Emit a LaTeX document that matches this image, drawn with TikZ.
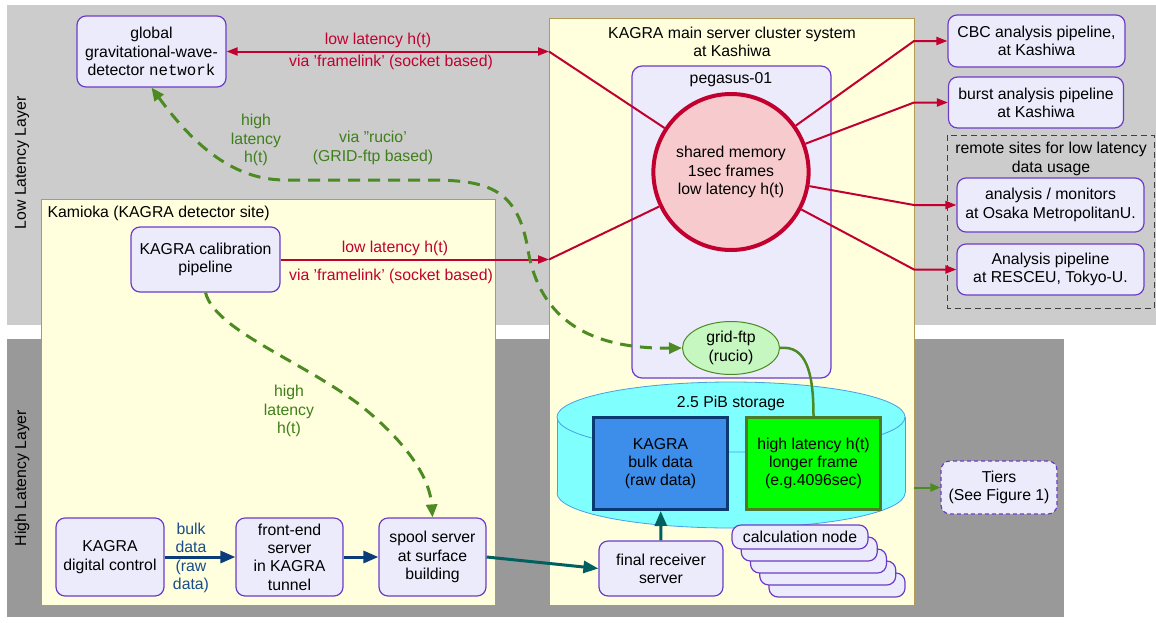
\documentclass[tikz,border=0pt]{standalone}
\usepackage{fontspec}
\setmainfont{Liberation Sans}
\setmonofont{Liberation Mono}
\usepackage{xcolor}
\usepackage{tikz}
\usetikzlibrary{arrows.meta,shapes.geometric,positioning}

\definecolor{lowgray}{HTML}{CCCCCC}
\definecolor{highgray}{HTML}{999999}
\definecolor{siteyel}{HTML}{FFFFDE}
\definecolor{sitebrd}{HTML}{B39B55}
\definecolor{boxfill}{HTML}{ECEBFC}
\definecolor{boxbrd}{HTML}{6C3CC9}
\definecolor{llred}{HTML}{C2002F}
\definecolor{hlgreen}{HTML}{4C8A22}
\definecolor{hltext}{HTML}{3F7F1A}
\definecolor{bulkblue}{HTML}{0B3C7A}
\definecolor{bulktext}{HTML}{1A4C8C}
\definecolor{tealc}{HTML}{00605F}
\definecolor{cyl}{HTML}{80FFFF}
\definecolor{cylbrd}{HTML}{4A9EE6}
\definecolor{rawblue}{HTML}{3C8EEA}
\definecolor{rawbrd}{HTML}{0B3A72}
\definecolor{hltfill}{HTML}{00FF00}
\definecolor{hltbrd}{HTML}{4C7A26}
\definecolor{shmfill}{HTML}{F7CBCD}
\definecolor{ftpfill}{HTML}{C6F7C0}

\begin{document}
\begin{tikzpicture}[x=1pt,y=-1pt,
  font=\fontsize{15.8}{18.3}\selectfont,
  box/.style={draw=boxbrd, fill=boxfill, line width=1.2pt, rounded corners=9pt,
    align=center, inner sep=0pt},
  site/.style={draw=sitebrd, fill=siteyel, line width=1pt},
  redline/.style={draw=llred, line width=2pt, -{Triangle[length=11pt,width=8pt]}},
  redplain/.style={draw=llred, line width=2pt},
  redlbl/.style={text=llred},
  hldash/.style={draw=hlgreen, line width=3pt, dash pattern=on 12pt off 8pt},
  hltip/.style={-{Triangle[length=13pt,width=11pt]}},
  hllbl/.style={text=hltext, align=center},
  bulkarrow/.style={draw=bulkblue, line width=3pt, -{Triangle[length=15pt,width=12pt]}},
  tealarrow/.style={draw=tealc, line width=3pt, -{Triangle[length=15pt,width=12pt]}}
]
  \useasboundingbox[fill=white] (0,0) rectangle (1156,622);
  \def\kashR{914};
  \def\kashL{549};

  % layers
  \fill[lowgray] (7,5) rectangle (1156,325);
  \fill[highgray] (7,339) rectangle (1064,617);
  \node[rotate=90] (lowlbl) at (22,163) {Low Latency Layer};
  \node[rotate=90] (highlbl) at (22,478) {High Latency Layer};

  % sites
  \draw[site] (41,199) rectangle (495,605);
  \node[anchor=west] (kamioka) at (44,213) {Kamioka (KAGRA detector site)};
  \draw[site] (\kashL,18) rectangle (\kashR,605);
  \node[align=center] (kashiwa) at (732,42) {KAGRA main server cluster system\\at Kashiwa};

  % pegasus-01
  \draw[draw=boxbrd, fill=boxfill, line width=1.2pt, rounded corners=10pt] (632,66) rectangle (831,378);
  \node (pegasus) at (731,80) {pegasus-01};
  \node[ellipse, draw=llred, line width=4pt, fill=shmfill, align=center, inner sep=0pt,
    minimum width=146pt, minimum height=156pt] (shm) at (731,172) {shared memory\\1sec frames\\low latency h(t)};
  \node[ellipse, draw=hlgreen, line width=1pt, fill=ftpfill, align=center, inner sep=0pt,
    minimum width=97pt, minimum height=53pt] (gridftp) at (731,348) {grid-ftp\\(rucio)};

  % storage
  \fill[cyl] (557,417) rectangle (905,493);
  \fill[cyl] (731,493) ellipse [x radius=174, y radius=35];
  \begin{scope}
    \clip (550,493) rectangle (912,540);
    \draw[cylbrd, line width=0.8pt] (731,493) ellipse [x radius=174, y radius=35];
  \end{scope}
  \draw[cylbrd, line width=0.8pt] (557,417) -- (557,493);
  \draw[cylbrd, line width=0.8pt] (905,417) -- (905,493);
  \draw[cylbrd, line width=0.8pt, fill=cyl] (731,417) ellipse [x radius=174, y radius=35];
  \node (storage) at (731,403) {2.5 PiB storage};
  \node[draw=rawbrd, fill=rawblue, line width=3pt, align=center, inner sep=0pt,
    minimum width=134pt, minimum height=92pt] (bulk) at (660.5,463.5) {KAGRA\\bulk data\\(raw data)};
  \node[draw=hltbrd, fill=hltfill, line width=3pt, align=center, inner sep=0pt,
    minimum width=134pt, minimum height=92pt] (hlt) at (813.5,463.5) {high latency h(t)\\longer frame\\(e.g.4096sec)};
  \draw[hlgreen, line width=2.5pt] (gridftp.east) .. controls (806,345) and (813.5,372) .. (hlt.north);

  % calculation nodes
  \foreach \i in {4,3,2,1}
    \node[box, minimum width=136pt, minimum height=24pt] (calc\i) at ({800+9.25*\i},{537+12*\i}) {};
  \node[box, minimum width=136pt, minimum height=24pt] (calc0) at (800,537) {calculation node};
  \node[box, minimum width=124pt, minimum height=55pt] (final) at (661,568.5) {final receiver\\server};
  \draw[tealarrow] (final) -- (bulk);

  % Kamioka nodes
  \node[box, minimum width=149pt, minimum height=71pt] (global) at (151.5,51.5)
    {global\\gravitational-wave-\\detector \texttt{network}};
  \node[box, minimum width=149pt, minimum height=65pt] (calib) at (205.5,259.5)
    {KAGRA calibration\\pipeline};
  \node[box, minimum width=108pt, minimum height=78pt] (digital) at (110,557) {KAGRA\\digital control};
  \node[box, minimum width=107pt, minimum height=78pt] (frontend) at (289.5,557) {front-end\\server\\in KAGRA\\tunnel};
  \node[box, minimum width=107pt, minimum height=78pt] (spool) at (432.5,557) {spool server\\at surface\\building};

  \draw[bulkarrow] (digital) -- (frontend);
  \node[text=bulktext, align=center] (bulklbl) at (191,558) {bulk\\data\\(raw\\data)};
  \draw[bulkarrow] (frontend) -- (spool);
  \draw[tealarrow] (spool.east) -- (final.west);

  % right side
  \node[box, minimum width=177pt, minimum height=52pt] (cbc) at (1036.5,41) {CBC analysis pipeline,\\at Kashiwa};
  \node[box, minimum width=175pt, minimum height=51pt] (burst) at (1036,102.5) {burst analysis pipeline\\at Kashiwa};
  \draw[draw=black!75, line width=1pt, dash pattern=on 6pt off 4pt] (947.5,135) rectangle (1154,308);
  \node[align=center] (remote) at (1051,159) {remote sites for low latency\\data usage};
  \node[box, minimum width=187pt, minimum height=54pt] (osaka) at (1050.5,205) {analysis / monitors\\at Osaka MetropolitanU.};
  \node[box, minimum width=187pt, minimum height=51pt] (resceu) at (1050.5,269.5) {Analysis pipeline\\at RESCEU, Tokyo-U.};
  \node[box, dash pattern=on 4pt off 3pt, minimum width=116pt, minimum height=53pt] (tiers) at (999,487.5) {Tiers\\(See Figure 1)};

  % low latency links
  \coordinate (kin1) at (\kashL,51.5);
  \coordinate (kin2) at (\kashL,259.5);
  \draw[redline, {Triangle[length=11pt,width=8pt]}-{Triangle[length=11pt,width=8pt]}] (global) -- (kin1);
  \draw[redplain] (kin1) -- (shm);
  \node[redlbl] (ll1) at (378,40) {low latency h(t)};
  \node[redlbl] (fl1) at (391,62) {via 'framelink' (socket based)};
  \draw[redline] (calib) -- (kin2);
  \draw[redplain] (kin2) -- (shm);
  \node[redlbl] (ll2) at (395,248) {low latency h(t)};
  \node[redlbl] (fl2) at (391,276) {via 'framelink' (socket based)};

  \coordinate (kout1) at (\kashR,41);
  \coordinate (kout2) at (\kashR,102.5);
  \coordinate (kout3) at (\kashR,205);
  \coordinate (kout4) at (\kashR,269.5);
  \draw[redline] (shm) -- (kout1) -- (cbc.west);
  \draw[redline] (shm) -- (kout2) -- (burst.west);
  \draw[redline] (shm) -- (kout3) -- (osaka.west);
  \draw[redline] (shm) -- (kout4) -- (resceu.west);

  % high latency links
  \coordinate (kout5) at (\kashR,487.5);
  \draw[hlgreen, line width=2pt, -{Triangle[length=10pt,width=8pt]}] (kout5) -- (tiers);

  \draw[hldash, {Triangle[length=13pt,width=11pt]}-{Triangle[length=13pt,width=11pt]}] (global.south)
    .. controls (190,140) and (230,180) .. (285,180) -- (430,180)
    .. controls (490,180) and (518,190) .. (528,250)
    .. controls (540,320) and (590,349) .. (gridftp.west);
  \node[hllbl] (hl1) at (256,140) {high\\latency\\h(t)};
  \node[hllbl] (rucio) at (373,148) {via "rucio’\\(GRID-ftp based)};

  \draw[hldash, hltip] (calib.south) .. controls (215,330) and (300,360) .. (360,405)
    .. controls (410,445) and (430,480) .. (spool.north);
  \node[hllbl] (hl2) at (289,411) {high\\latency\\h(t)};
\end{tikzpicture}
\end{document}
